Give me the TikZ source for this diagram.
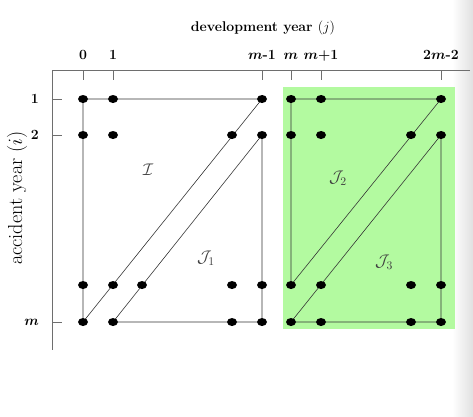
\documentclass[tikz,border=0pt]{standalone}
\usetikzlibrary{positioning}
\definecolor{tailgreen}{RGB}{179,250,160}
\definecolor{axisgray}{RGB}{110,110,110}
\tikzset{
    dot/.style={fill=black},
    edge/.style={black!80, line width=0.5pt},
    axisline/.style={axisgray, line width=0.6pt},
    ticklabel/.style={font=\large\bfseries\boldmath, inner sep=1pt},
    regionlabel/.style={font=\Large, text=black!75}
}
\begin{document}
\begin{tikzpicture}[x=0.03cm, y=-0.03cm]
    \useasboundingbox (0,0) rectangle (473,416);
    % faint shade at the right edge
    \shade[left color=white, right color=black!12] (452,0) rectangle (473,416);

    % grid points: column index / x, row index / y
    \foreach \c/\x in {0/83, 1/113, 2/142, 3/232, 4/262, 5/291, 6/321, 7/411, 8/441} {
        \foreach \r/\y in {1/99, 2/135, 3/285, 4/322} {
            \coordinate (p\c\r) at (\x,\y);
        }
    }

    % tail block
    \fill[tailgreen] (283,87) rectangle (455,329);

    % axes
    \coordinate (origin) at (52,70);
    \coordinate (xend) at (470,70);
    \coordinate (yend) at (52,350);
    \draw[axisline] (xend) -- (origin) -- (yend);
    \node[font=\large\bfseries] (xlab) at (263,28) {development year $(j)$};
    \node[font=\LARGE, rotate=90] (ylab) at (17,198) {accident year $(i)$};

    % ticks along the top
    \foreach \c/\lab in {0/0, 1/1, 4/$m$-1, 5/$m$, 6/$m$+1, 8/2$m$-2} {
        \coordinate (tx\c) at (p\c1 |- origin);
        \draw[axisline] (tx\c) -- ++(0,10);
        \node[ticklabel, above=9pt of tx\c, anchor=base] (lx\c) {\lab};
    }
    % ticks along the left
    \foreach \r/\lab in {1/1, 2/2, 4/$m$} {
        \coordinate (ty\r) at (origin |- p0\r);
        \draw[axisline] (ty\r) -- ++(10,0);
        \node[ticklabel, left=10pt of ty\r] (ly\r) {\lab};
    }

    % observed triangle I and J1
    \draw[edge] (p01) -- (p41) -- (p04) -- cycle;
    \draw[edge] (p42) -- (p44) -- (p14) -- cycle;
    % tail triangles J2 and J3
    \draw[edge] (p51) -- (p81) -- (p53) -- cycle;
    \draw[edge] (p82) -- (p84) -- (p54) -- cycle;

    % dots
    \foreach \p in {01,11,41, 02,12,32,42, 03,13,23,33,43, 04,14,34,44,
                    51,61,81, 52,62,72,82, 53,63,73,83, 54,64,74,84} {
        \fill[dot] (p\p) ellipse (0.15cm and 0.12cm);
    }

    % region labels
    \node[regionlabel] (setI) at (148,170) {$\mathcal{I}$};
    \node[regionlabel] (setJa) at (206,258) {$\mathcal{J}_1$};
    \node[regionlabel] (setJb) at (338,178) {$\mathcal{J}_2$};
    \node[regionlabel] (setJc) at (384,262) {$\mathcal{J}_3$};
\end{tikzpicture}
\end{document}
